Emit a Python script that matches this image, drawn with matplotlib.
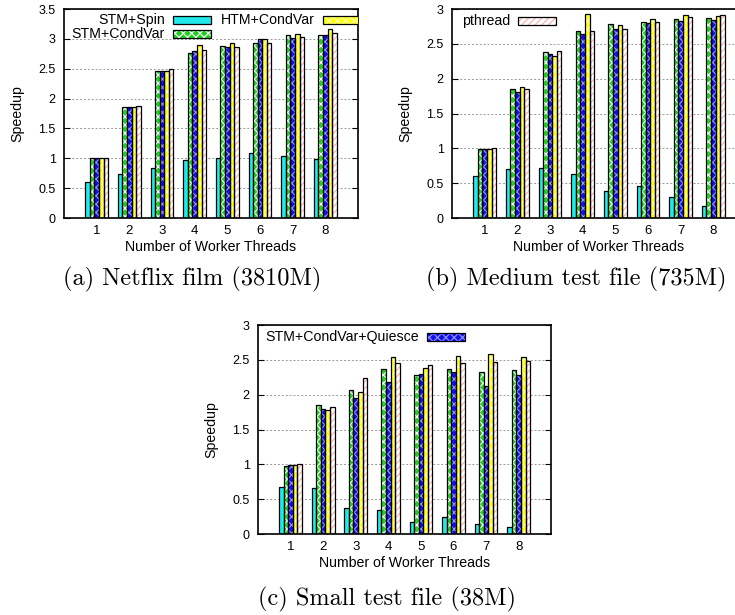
import numpy as np
import matplotlib
matplotlib.use("Agg")
import matplotlib.pyplot as plt
from matplotlib.patches import Rectangle
from matplotlib.ticker import FuncFormatter

plt.rcParams["font.family"] = ["Liberation Sans", "DejaVu Sans"]
plt.rcParams["hatch.linewidth"] = 0.8

threads = [1, 2, 3, 4, 5, 6, 7, 8]
series = ["STM+Spin", "STM+CondVar", "STM+CondVar+Quiesce", "HTM+CondVar", "pthread"]

# (a) Netflix film (3810M)
netflix_stm_spin = [0.60, 0.73, 0.83, 0.97, 1.00, 1.09, 1.04, 0.99]
netflix_stm_condvar = [1.00, 1.86, 2.46, 2.76, 2.88, 2.93, 3.07, 3.06]
netflix_stm_quiesce = [1.00, 1.86, 2.46, 2.79, 2.86, 2.99, 3.02, 3.07]
netflix_htm_condvar = [1.00, 1.86, 2.47, 2.90, 2.93, 2.99, 3.08, 3.17]
netflix_pthread = [1.00, 1.87, 2.50, 2.81, 2.87, 2.93, 3.04, 3.10]

# (b) Medium test file (735M)
medium_stm_spin = [0.60, 0.70, 0.72, 0.63, 0.39, 0.46, 0.30, 0.17]
medium_stm_condvar = [0.99, 1.85, 2.38, 2.69, 2.78, 2.82, 2.86, 2.87]
medium_stm_quiesce = [0.99, 1.81, 2.35, 2.64, 2.72, 2.80, 2.83, 2.84]
medium_htm_condvar = [0.99, 1.88, 2.32, 2.93, 2.77, 2.85, 2.92, 2.90]
medium_pthread = [1.00, 1.85, 2.40, 2.68, 2.71, 2.81, 2.89, 2.91]

# (c) Small test file (38M)
small_stm_spin = [0.67, 0.66, 0.37, 0.34, 0.17, 0.24, 0.15, 0.10]
small_stm_condvar = [0.98, 1.85, 2.07, 2.37, 2.28, 2.37, 2.32, 2.36]
small_stm_quiesce = [0.99, 1.79, 1.95, 2.18, 2.29, 2.32, 2.12, 2.28]
small_htm_condvar = [0.99, 1.78, 2.04, 2.54, 2.39, 2.56, 2.58, 2.54]
small_pthread = [1.00, 1.83, 2.24, 2.45, 2.42, 2.45, 2.47, 2.49]

yticks_netflix = [0, 0.5, 1, 1.5, 2, 2.5, 3, 3.5]
yticks_other = [0, 0.5, 1, 1.5, 2, 2.5, 3]

captions = ["(a) Netflix film (3810M)", "(b) Medium test file (735M)",
            "(c) Small test file (38M)"]

# face colour, hatch, hatch colour (gnuplot-ish fill patterns)
styles = {
    "STM+Spin": ("#22eaea", "", "#22eaea"),
    "STM+CondVar": ("#22d022", "xxxx", "#ffffff"),
    "STM+CondVar+Quiesce": ("#1010f0", "xxxx", "#9a9aff"),
    "HTM+CondVar": ("#ffff10", "xxxx", "#ffffc0"),
    "pthread": ("#ffffff", "/////", "#ffaaaa"),
}

BW = 0.14
FS = 10.2


def draw_bars(ax, data):
    for k, (name, vals) in enumerate(zip(series, data)):
        face, hatch, hcol = styles[name]
        x = np.array(threads) + (k - 2) * BW
        ax.bar(x, vals, BW, color=face, hatch=hatch, edgecolor=hcol,
               linewidth=0, zorder=2)
        ax.bar(x, vals, BW, fill=False, edgecolor="black", linewidth=0.9,
               zorder=3)


def key(ax, x_end, y, name):
    # gnuplot style key: right-aligned text, then a sample box
    face, hatch, hcol = styles[name]
    ax.text(x_end, y, name, transform=ax.transAxes, ha="right", va="center",
            fontsize=FS, zorder=6)
    x0 = x_end + 0.028
    w, h = 0.13, 0.038
    ax.add_patch(Rectangle((x0, y - h / 2), w, h, transform=ax.transAxes,
                           facecolor=face, hatch=hatch, edgecolor=hcol,
                           linewidth=0, zorder=6))
    ax.add_patch(Rectangle((x0, y - h / 2), w, h, transform=ax.transAxes,
                           fill=False, edgecolor="black", linewidth=0.9,
                           zorder=7))


def setup(ax, yticks):
    ax.set_xlim(0, 9)
    ax.set_ylim(yticks[0], yticks[-1])
    ax.set_xticks(threads)
    ax.set_yticks(yticks)
    ax.yaxis.set_major_formatter(FuncFormatter(lambda v, p: "%g" % v))
    ax.tick_params(axis="y", direction="in", left=True, right=True,
                   length=4, width=0.8, labelsize=9, pad=6)
    ax.tick_params(axis="x", length=0, labelsize=9.5, pad=5)
    ax.yaxis.grid(True, color="#999999", linestyle=(0, (2, 2)), linewidth=0.7)
    ax.set_axisbelow(True)
    for s in ax.spines.values():
        s.set_linewidth(1.2)
    ax.set_ylabel("Speedup", fontsize=FS)
    ax.yaxis.set_label_coords(-0.136, 0.5)
    ax.set_xlabel("Number of Worker Threads", fontsize=FS)
    ax.xaxis.set_label_coords(0.5, -0.105)


fig = plt.figure(figsize=(7.35, 6.15), dpi=100)
ax_a = fig.add_axes([0.0871, 0.6455, 0.400, 0.3398])
ax_b = fig.add_axes([0.615, 0.6455, 0.400, 0.3398])
ax_c = fig.add_axes([0.351, 0.1317, 0.399, 0.3398])

draw_bars(ax_a, [netflix_stm_spin, netflix_stm_condvar, netflix_stm_quiesce,
                 netflix_htm_condvar, netflix_pthread])
draw_bars(ax_b, [medium_stm_spin, medium_stm_condvar, medium_stm_quiesce,
                 medium_htm_condvar, medium_pthread])
draw_bars(ax_c, [small_stm_spin, small_stm_condvar, small_stm_quiesce,
                 small_htm_condvar, small_pthread])

setup(ax_a, yticks_netflix)
setup(ax_b, yticks_other)
setup(ax_c, yticks_other)

key(ax_a, 0.343, 0.947, "STM+Spin")
key(ax_a, 0.343, 0.880, "STM+CondVar")
key(ax_a, 0.854, 0.947, "HTM+CondVar")
key(ax_b, 0.197, 0.943, "pthread")
key(ax_c, 0.549, 0.943, "STM+CondVar+Quiesce")

cap_font = dict(family="cmr10", fontsize=17.5, ha="center", va="center")
fig.text(0.261, 0.546, captions[0], **cap_font)
fig.text(0.784, 0.546, captions[1], **cap_font)
fig.text(0.5265, 0.025, captions[2], **cap_font)

fig.savefig("out.png", dpi=100)
